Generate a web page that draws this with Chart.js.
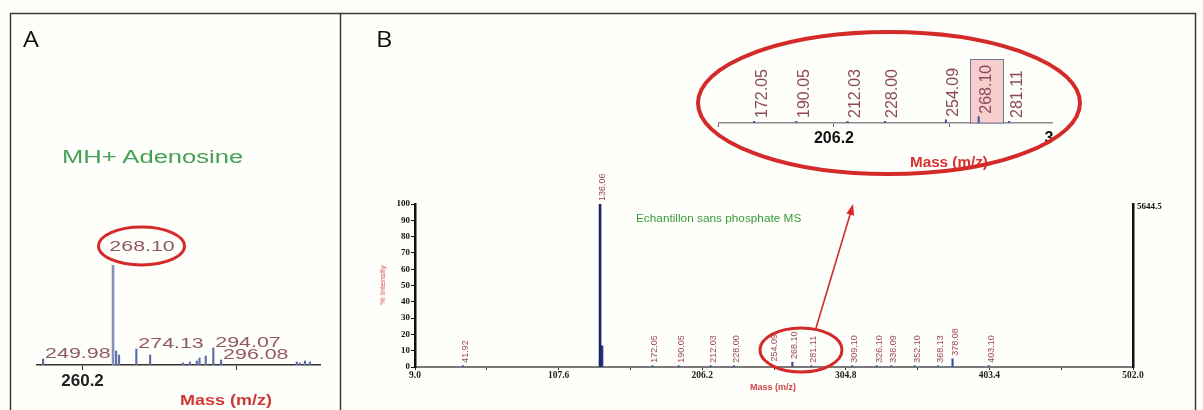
<!DOCTYPE html>
<html><head><meta charset="utf-8">
<script src="https://cdn.jsdelivr.net/npm/chart.js@4.4.0/dist/chart.umd.min.js"></script>
<style>
html,body{margin:0;padding:0;background:#fefefa;}
body{width:1203px;height:410px;position:relative;overflow:hidden;font-family:"Liberation Sans",Arial,sans-serif;}
.t{position:absolute;white-space:nowrap;line-height:1;transform-origin:0 50%;}
canvas{position:absolute;}
svg{position:absolute;left:0;top:0;pointer-events:none;}
</style></head><body>
<canvas id="chartA" width="330" height="397" style="left:10px;top:13px"></canvas>
<canvas id="chartB" width="855" height="397" style="left:340px;top:13px"></canvas>
<div style="position:absolute;left:700px;top:30px;width:353px;height:150px;overflow:hidden"><canvas id="chartC" width="420" height="150" style="left:0;top:0"></canvas></div>

<div class="t" style="left:23px;top:29px;font-size:21px;font-family:'Open Sans';color:#111;transform:scaleX(1.2)">A</div>
<div class="t" style="left:376px;top:29px;font-size:21px;font-family:'Open Sans';color:#111;transform:scaleX(1.2)">B</div>
<div class="t" style="left:62px;top:148px;font-size:18px;color:#46a055;transform:scaleX(1.42)">MH+ Adenosine</div>
<div class="t" style="left:180px;top:392px;font-size:15px;font-weight:bold;color:#d03838;transform:scaleX(1.2)">Mass (m/z)</div>
<div class="t" style="left:636px;top:214px;font-size:10px;color:#3a9a3a;transform:scaleX(1.18)">Echantillon sans phosphate MS</div>
<div class="t" style="left:750px;top:383px;font-size:9px;font-weight:bold;color:#d04848;">Mass (m/z)</div>
<div class="t" style="left:383px;top:285px;font-size:8px;color:#e04848;transform:translate(-50%,-50%) rotate(-90deg);transform-origin:50% 50%">% Intensity</div>
<div class="t" style="left:1137px;top:202px;font-size:9px;font-weight:bold;font-family:'Liberation Serif';color:#111">5644.5</div>
<div class="t" style="left:910px;top:155px;font-size:14.5px;font-weight:bold;color:#d83030;transform:scaleX(1.05)">Mass (m/z)</div>

<svg width="1203" height="410" viewBox="0 0 1203 410">
  <g stroke="#3a3a3a" stroke-width="1.5" fill="none">
    <line x1="10" y1="13.5" x2="1196" y2="13.5"/>
    <line x1="10.5" y1="13" x2="10.5" y2="410"/>
    <line x1="340.5" y1="13" x2="340.5" y2="410"/>
    <line x1="1195.5" y1="13" x2="1195.5" y2="410"/>
  </g>
  <g stroke="#d42a2a" fill="none">
    <ellipse cx="141.5" cy="246" rx="43" ry="19" stroke-width="3"/>
    <ellipse cx="801" cy="350" rx="41" ry="22" stroke-width="3"/>
    <ellipse cx="889" cy="103" rx="191" ry="71" stroke-width="4"/>
    <line x1="816" y1="328" x2="850.5" y2="213" stroke-width="1.6"/>
  </g>
  <polygon points="853,204 854.2,215.8 846.4,213.4" fill="#d42a2a"/>
</svg>

<script>
// ---------- Panel A : zoom around MH+ adenosine ----------
const peaksA_mz     = [249.98, 268.10, 268.90, 269.65, 274.13, 277.70, 286.20, 288.00, 289.80, 290.50, 292.10, 294.07, 296.08, 315.70, 316.50, 317.80, 319.10];
const peaksA_int    = [6, 100, 14, 10, 16, 10, 2, 3, 4, 7, 9, 17, 5, 3, 2, 4, 3];
const peaksA_labels = ['249.98','268.10','','','274.13','','','','','','','294.07','296.08','','','',''];
const labelPlaceA   = ['right','above','','','right','','','','','','','right','right','','','',''];
const ticksA_values = [260.2, 300.2];
const ticksA_labels = ['260.2', ''];

// ---------- Panel B : full MS spectrum ----------
const peaksB_mz     = [41.92, 136.06, 137.06, 172.05, 190.05, 212.03, 228.00, 254.09, 268.10, 281.11, 309.10, 326.10, 336.09, 352.10, 368.13, 378.08, 403.10];
const peaksB_int    = [0.8, 100, 13, 0.8, 0.8, 0.8, 0.8, 1.5, 3, 0.8, 0.8, 0.8, 0.8, 0.8, 0.8, 5, 0.8];
const peaksB_labels = ['41.92','136.06','','172.05','190.05','212.03','228.00','254.09','268.10','281.11','309.10','326.10','336.09','352.10','368.13','378.08','403.10'];
const ticksB_values = [9.0, 58.3, 107.6, 156.9, 206.2, 255.5, 304.8, 354.1, 403.4, 452.7, 502.0];
const ticksB_labels = ['9.0','','107.6','','206.2','','304.8','','403.4','','502.0'];
const ticksBy_values = [0,10,20,30,40,50,60,70,80,90,100];

// ---------- Inset : enlarged x-axis of panel B ----------
const ticksC_values = [156.9, 206.2, 255.5, 304.8];
const ticksC_labels = ['', '206.2', '', '304.8'];
const highlightC = '268.10';

function pts(mz, it, keep) {
  const out = [];
  for (let i = 0; i < mz.length; i++) if (keep(it[i], i)) out.push({x: mz[i], y: it[i]});
  return out;
}

function spectrumLabels(cfg) {
  return {
    id: 'specLabels' + cfg.name,
    beforeDatasetsDraw(chart) {
      if (!cfg.highlight) return;
      const {ctx, chartArea, scales: {x, y}} = chart;
      const i = cfg.labels.indexOf(cfg.highlight);
      if (i < 0) return;
      const px = x.getPixelForValue(cfg.mz[i]);
      const base = y.getPixelForValue(0);
      const l = Math.round(px - 8.5) + 0.5, w = 33, t = chartArea.top - 0.5;
      ctx.save();
      ctx.fillStyle = '#f7cdcd';
      ctx.fillRect(l, t, w, base - t);
      ctx.strokeStyle = '#6f7896'; ctx.lineWidth = 1;
      ctx.strokeRect(l, t, w, base - t);
      ctx.restore();
    },
    afterDatasetsDraw(chart) {
      const {ctx, scales: {x, y}} = chart;
      ctx.save();
      ctx.font = cfg.font;
      ctx.fillStyle = cfg.color;
      for (let i = 0; i < cfg.mz.length; i++) {
        const txt = cfg.labels[i];
        if (!txt) continue;
        if (cfg.mz[i] < x.min || cfg.mz[i] > x.max) continue;
        const px = x.getPixelForValue(cfg.mz[i]);
        const top = y.getPixelForValue(Math.min(cfg.int[i], y.max));
        const base = y.getPixelForValue(0);
        ctx.save();
        if (cfg.rotate) {
          const ay = Math.min(top - cfg.gap, base - cfg.minGap);
          ctx.translate(px + cfg.dx, ay);
          ctx.rotate(-Math.PI / 2);
          ctx.textAlign = 'left'; ctx.textBaseline = 'middle';
          ctx.fillText(txt, 0, 0);
        } else {
          const place = cfg.place[i];
          if (place === 'above') {
            ctx.translate(px + 29, top - 18);
            ctx.scale(cfg.sx, 1);
            ctx.textAlign = 'center';
          } else {
            ctx.translate(px + 2, top - 5);
            ctx.scale(cfg.sx, 1);
            ctx.textAlign = 'left';
          }
          ctx.textBaseline = 'middle';
          ctx.fillText(txt, 0, 0);
        }
        ctx.restore();
      }
      ctx.restore();
    }
  };
}

Chart.defaults.font.family = "'Liberation Sans', Arial, sans-serif";

// ----- Chart A -----
new Chart(document.getElementById('chartA'), {
  type: 'bar',
  data: { datasets: [
    { data: pts(peaksA_mz, peaksA_int, v => v >= 50), backgroundColor: '#8690bc', barThickness: 2, grouped: false },
    { data: pts(peaksA_mz, peaksA_int, v => v < 50), backgroundColor: '#5f6ea8', barThickness: 1.5, grouped: false }
  ]},
  options: {
    responsive: false, animation: false, devicePixelRatio: 1,
    layout: { padding: { left: 27, right: 20, top: 252, bottom: 20 } },
    plugins: { legend: { display: false }, tooltip: { enabled: false } },
    scales: {
      x: { type: 'linear', min: 248.4, max: 321.7, offset: false,
        afterBuildTicks: s => { s.ticks = ticksA_values.map(v => ({value: v})); },
        ticks: { autoSkip: false, maxRotation: 0, font: { size: 17, weight: 'bold' }, color: '#222', padding: 1,
          callback: (v, i) => ticksA_labels[i] },
        grid: { display: true, drawOnChartArea: false, drawTicks: true, tickLength: 5, color: '#333', offset: false },
        border: { display: true, color: '#333', width: 1.5 },
        afterFit: s => { s.height = 25; } },
      y: { display: false, min: 0, max: 100 }
    }
  },
  plugins: [spectrumLabels({ name: 'A', mz: peaksA_mz, int: peaksA_int, labels: peaksA_labels, place: labelPlaceA,
    font: '15.5px "Liberation Sans", Arial', color: '#915866', sx: 1.38, rotate: false })]
});

// ----- Chart B -----
new Chart(document.getElementById('chartB'), {
  type: 'bar',
  data: { datasets: [
    { data: pts(peaksB_mz, peaksB_int, v => v >= 50), backgroundColor: '#1f2368', barThickness: 2, grouped: false },
    { data: pts(peaksB_mz, peaksB_int, v => v >= 10 && v < 50), backgroundColor: '#2d3288', barThickness: 3, grouped: false },
    { data: pts(peaksB_mz, peaksB_int, v => v < 10), backgroundColor: '#3a4aa2', barThickness: 1.5, grouped: false }
  ]},
  options: {
    responsive: false, animation: false, devicePixelRatio: 1,
    layout: { padding: { left: 45, right: 62, top: 191, bottom: 23 } },
    plugins: { legend: { display: false }, tooltip: { enabled: false } },
    scales: {
      x: { type: 'linear', min: 9.0, max: 502.0, offset: false,
        afterBuildTicks: s => { s.ticks = ticksB_values.map(v => ({value: v})); },
        ticks: { autoSkip: false, maxRotation: 0, minRotation: 0,
          font: { family: "'Liberation Serif', serif", size: 9.5, weight: 'bold' }, color: '#222', padding: 0,
          callback: (v, i) => ticksB_labels[i] },
        grid: { display: true, drawOnChartArea: false, drawTicks: true, tickLength: 3, color: '#333', offset: false },
        border: { display: true, color: '#7a7a7a', width: 2 },
        afterFit: s => { s.height = 20; } },
      y: { position: 'left', min: 0, max: 100,
        afterBuildTicks: s => { s.ticks = ticksBy_values.map(v => ({value: v})); },
        ticks: { font: { family: "'Liberation Serif', serif", size: 9, weight: 'bold' }, color: '#111', padding: 1,
          callback: v => String(v) },
        grid: { display: true, drawOnChartArea: false, drawTicks: true, tickLength: 4, color: '#111' },
        border: { display: true, color: '#111', width: 2.5 },
        afterFit: s => { s.width = 30; } },
      y2: { position: 'right', min: 0, max: 100, ticks: { display: false },
        grid: { display: false }, border: { display: true, color: '#111', width: 2.5 },
        afterFit: s => { s.width = 0; } }
    }
  },
  plugins: [spectrumLabels({ name: 'B', mz: peaksB_mz, int: peaksB_int, labels: peaksB_labels,
    font: '9px "Liberation Sans", Arial', color: '#9c4656', rotate: true, dx: 2.5, gap: 3, minGap: 4 })]
});

// ----- Inset -----
new Chart(document.getElementById('chartC'), {
  type: 'bar',
  data: { datasets: [
    { data: pts(peaksB_mz, peaksB_int, v => v < 10), backgroundColor: '#4a5a9c', barThickness: 1.5, grouped: false }
  ]},
  options: {
    responsive: false, animation: false, devicePixelRatio: 1,
    layout: { padding: { left: 18.7, right: 55.5, top: 30, bottom: 35 } },
    plugins: { legend: { display: false }, tooltip: { enabled: false } },
    scales: {
      x: { type: 'linear', min: 156.9, max: 304.8, offset: false,
        afterBuildTicks: s => { s.ticks = ticksC_values.map(v => ({value: v})); },
        ticks: { autoSkip: false, maxRotation: 0, font: { size: 16, weight: 'bold' }, color: '#111', padding: 2,
          callback: (v, i) => ticksC_labels[i] },
        grid: { display: true, drawOnChartArea: false, drawTicks: true, tickLength: 4, color: '#666', offset: false },
        border: { display: true, color: '#8a8a8a', width: 1.5 },
        afterFit: s => { s.height = 22; } },
      y: { display: false, min: 0, max: 30 }
    }
  },
  plugins: [spectrumLabels({ name: 'C', mz: peaksB_mz, int: peaksB_int, labels: peaksB_labels, highlight: highlightC,
    font: '16px "Liberation Sans", Arial', color: '#8b4a5c', rotate: true, dx: 8, gap: 3, minGap: 5 })]
});
</script>
</body></html>
